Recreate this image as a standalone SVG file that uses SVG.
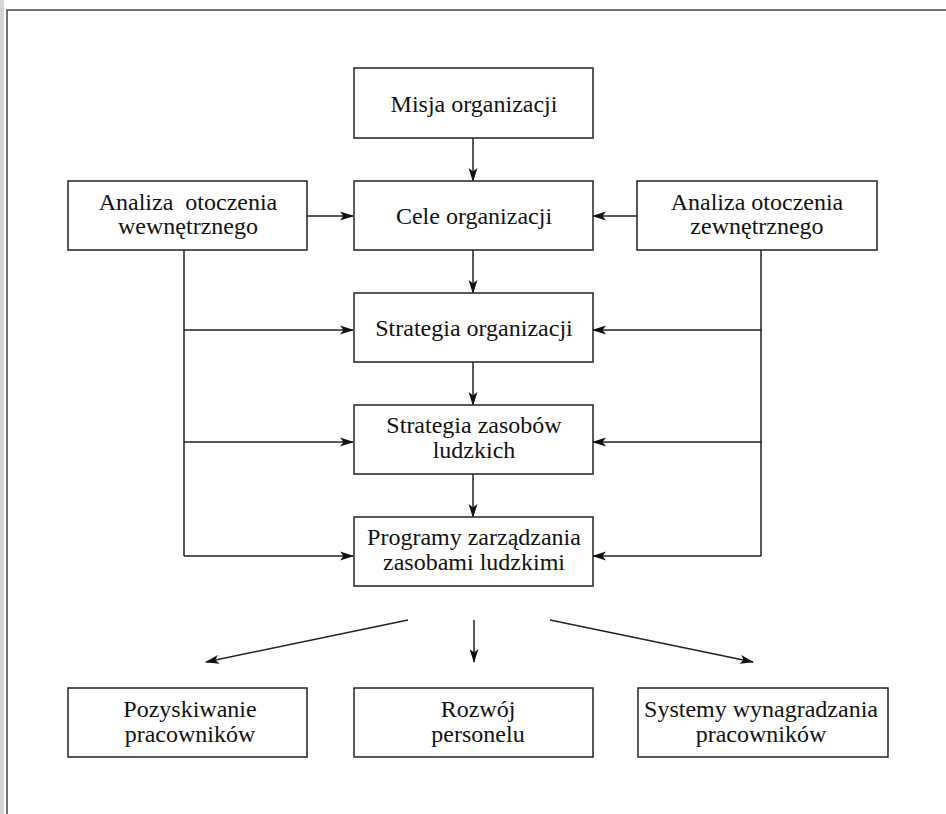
<svg xmlns="http://www.w3.org/2000/svg" width="946" height="814" viewBox="0 0 946 814">
<defs>
<style>
.box{fill:#fff;stroke:#222;stroke-width:1.5}
.t{font-family:"Liberation Serif","Times New Roman",serif;font-size:24px;fill:#111;text-anchor:middle}
.c{fill:none;stroke:#222;stroke-width:1.5}
.frame{fill:none;stroke:#444;stroke-width:1.5}
</style>
<marker id="ah" viewBox="0 0 14 10" refX="13" refY="5" markerWidth="14" markerHeight="10" markerUnits="userSpaceOnUse" orient="auto">
<path d="M0,0.5 L14,5 L0,9.5 L3.5,5 Z" fill="#111"/>
</marker>
</defs>
<rect x="0" y="0" width="946" height="814" fill="#fff"/>
<rect x="0" y="0" width="4" height="814" fill="#d4d4d4"/>
<path class="frame" d="M7,814 L7,10 L946,10"/>

<g id="connectors">
<line class="c" x1="473" y1="138" x2="473" y2="181" marker-end="url(#ah)"/>
<line class="c" x1="473" y1="250" x2="473" y2="293" marker-end="url(#ah)"/>
<line class="c" x1="473" y1="362" x2="473" y2="405" marker-end="url(#ah)"/>
<line class="c" x1="473" y1="474" x2="473" y2="517" marker-end="url(#ah)"/>
<line class="c" x1="307" y1="216" x2="353" y2="216" marker-end="url(#ah)"/>
<line class="c" x1="637" y1="216" x2="593" y2="216" marker-end="url(#ah)"/>
<path class="c" d="M184,250 L184,556"/>
<line class="c" x1="184" y1="330" x2="353" y2="330" marker-end="url(#ah)"/>
<line class="c" x1="184" y1="442" x2="353" y2="442" marker-end="url(#ah)"/>
<line class="c" x1="184" y1="556" x2="353" y2="556" marker-end="url(#ah)"/>
<path class="c" d="M761,250 L761,556"/>
<line class="c" x1="762" y1="330" x2="593" y2="330" marker-end="url(#ah)"/>
<line class="c" x1="762" y1="442" x2="593" y2="442" marker-end="url(#ah)"/>
<line class="c" x1="761" y1="556" x2="593" y2="556" marker-end="url(#ah)"/>
<line class="c" x1="408" y1="620" x2="206" y2="662" marker-end="url(#ah)"/>
<line class="c" x1="474" y1="620" x2="474" y2="662" marker-end="url(#ah)"/>
<line class="c" x1="550" y1="620" x2="753" y2="662" marker-end="url(#ah)"/>
</g>

<g id="misja">
<rect class="box" x="354" y="68" width="239" height="70"/>
<text class="t" x="474" y="112">Misja organizacji</text>
</g>
<g id="cele">
<rect class="box" x="354" y="181" width="239" height="69"/>
<text class="t" x="474" y="224">Cele organizacji</text>
</g>
<g id="analiza-wew">
<rect class="box" x="68" y="181" width="239" height="69"/>
<text class="t" x="188" y="210" xml:space="preserve">Analiza  otoczenia</text>
<text class="t" x="188" y="234">wewnętrznego</text>
</g>
<g id="analiza-zew">
<rect class="box" x="637" y="181" width="240" height="69"/>
<text class="t" x="757" y="210">Analiza otoczenia</text>
<text class="t" x="757" y="234">zewnętrznego</text>
</g>
<g id="strategia-org">
<rect class="box" x="354" y="293" width="239" height="69"/>
<text class="t" x="474" y="336">Strategia organizacji</text>
</g>
<g id="strategia-zl">
<rect class="box" x="354" y="405" width="239" height="69"/>
<text class="t" x="474" y="433">Strategia zasobów</text>
<text class="t" x="474" y="458">ludzkich</text>
</g>
<g id="programy">
<rect class="box" x="354" y="517" width="239" height="69"/>
<text class="t" x="474" y="545">Programy zarządzania</text>
<text class="t" x="474" y="570">zasobami ludzkimi</text>
</g>
<g id="pozyskiwanie">
<rect class="box" x="68" y="688" width="239" height="69"/>
<text class="t" x="190" y="717">Pozyskiwanie</text>
<text class="t" x="190" y="742">pracowników</text>
</g>
<g id="rozwoj">
<rect class="box" x="354" y="688" width="239" height="69"/>
<text class="t" x="478" y="717">Rozwój</text>
<text class="t" x="478" y="742">personelu</text>
</g>
<g id="systemy">
<rect class="box" x="638" y="688" width="250" height="69"/>
<text class="t" x="761" y="717">Systemy wynagradzania</text>
<text class="t" x="761" y="742">pracowników</text>
</g>
</svg>
